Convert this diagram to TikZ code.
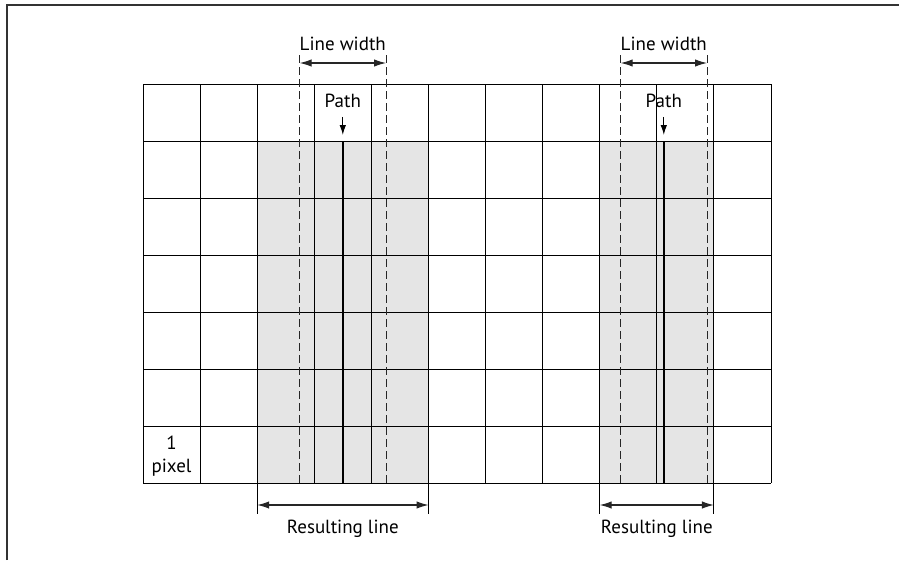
\documentclass[tikz,border=0pt]{standalone}
\usepackage{fontspec}
\setsansfont{PT Sans}
\usetikzlibrary{arrows.meta, positioning}

\begin{document}
\begin{tikzpicture}[
		x=1pt, y=-1pt,
		font=\sffamily\fontsize{19}{22.6}\selectfont,
		% Style for the frame and the pixel grid
		frame/.style={draw=black!80, line width=2pt},
		pixel grid/.style={draw=black, line width=1pt},
		% Style for the pixels that are covered
		covered/.style={fill=black!10},
		% Style for the path and its width
		path line/.style={draw=black, line width=2.2pt},
		width edge/.style={draw=black!85, line width=1pt, dash pattern=on 8pt off 4pt},
		% Arrows and labels
		dim arrow/.style={{Latex[length=12pt,width=7.5pt]}-{Latex[length=12pt,width=7.5pt]}, line width=1.2pt, draw=black!85},
		path arrow/.style={-{Latex[length=10pt,width=6.5pt]}, line width=1.1pt, shorten <=8pt},
		dim tick/.style={draw=black, line width=1pt},
		lbl/.style={inner sep=1pt, align=center}
	]
	\useasboundingbox (0,0) rectangle (899,560);
	
	% ==============================================================================
	% FRAME
	% ==============================================================================
	\draw[frame] (6.5,560) -- (6.5,4.5) -- (899,4.5);
	
	% ==============================================================================
	% COVERED PIXELS
	% ==============================================================================
	\fill[covered] (257.2,141) rectangle (428.5,483); % resulting line 1
	\fill[covered] (599.7,141) rectangle (713.9,483); % resulting line 2
	
	% ==============================================================================
	% PIXEL GRID
	% ==============================================================================
	\foreach \x in {143,200.1,257.2,314.3,371.4,428.5,485.5,542.6,599.7,656.8,713.9,771}
		\draw[pixel grid] (\x,84) -- (\x,483);
	\foreach \y in {84,141,198,255,312,369,426,483}
		\draw[pixel grid] (143,\y) -- (771,\y);
	\node[lbl] (onePixel) at (171.5,456) {1\\pixel};
	
	% ==============================================================================
	% LEFT LINE: path in the middle of a pixel
	% ==============================================================================
	\draw[path line] (342.8,141) -- (342.8,483);
	\draw[width edge] (299.6,55) -- (299.6,483);
	\draw[width edge] (386,55) -- (386,483);
	
	\coordinate (W1L) at (299.6,63);
	\coordinate (W1R) at (386,63);
	\draw[dim arrow] (W1L) -- (W1R);
	\node[lbl, anchor=base] (W1lbl) at (342.8,50) {Line width};
	
	\node[lbl, anchor=base] (P1) at (342.8,107.5) {Path};
	\coordinate (P1tip) at (342.8,135);
	\draw[path arrow] (P1.south) -- (P1tip);
	
	\draw[dim tick] (257.2,483) -- (257.2,514) coordinate (R1L);
	\draw[dim tick] (428.5,483) -- (428.5,514) coordinate (R1R);
	\coordinate (R1a) at (257.2,505);
	\coordinate (R1b) at (428.5,505);
	\draw[dim arrow] (R1a) -- (R1b);
	\node[lbl, anchor=base] (R1lbl) at (342.8,533.5) {Resulting line};
	
	% ==============================================================================
	% RIGHT LINE: path near a pixel edge
	% ==============================================================================
	\draw[path line] (663.8,141) -- (663.8,483);
	\draw[width edge] (620.7,55) -- (620.7,483);
	\draw[width edge] (707,55) -- (707,483);
	
	\coordinate (W2L) at (620.7,63);
	\coordinate (W2R) at (707,63);
	\draw[dim arrow] (W2L) -- (W2R);
	\node[lbl, anchor=base] (W2lbl) at (663.8,50) {Line width};
	
	\node[lbl, anchor=base] (P2) at (663.8,107.5) {Path};
	\coordinate (P2tip) at (663.8,135);
	\draw[path arrow] (P2.south) -- (P2tip);
	
	\draw[dim tick] (599.7,483) -- (599.7,514) coordinate (R2L);
	\draw[dim tick] (713.9,483) -- (713.9,514) coordinate (R2R);
	\coordinate (R2a) at (599.7,505);
	\coordinate (R2b) at (713.9,505);
	\draw[dim arrow] (R2a) -- (R2b);
	\node[lbl, anchor=base] (R2lbl) at (656.8,533.5) {Resulting line};
	
\end{tikzpicture}
\end{document}
